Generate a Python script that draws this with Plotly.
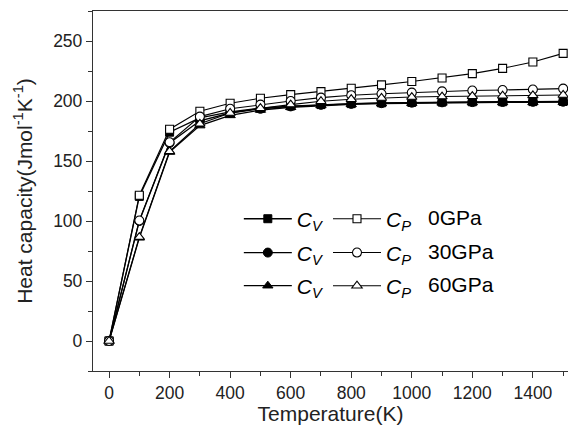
import plotly.graph_objects as go

temperature = [0, 100, 200, 300, 400, 500, 600, 700, 800, 900, 1000, 1100, 1200, 1300, 1400, 1500]

cv_0gpa = [0, 120.5, 174.0, 186.0, 191.0, 194.0, 195.8, 197.0, 197.8, 198.4, 198.8, 199.1, 199.3, 199.4, 199.5, 199.6]
cp_0gpa = [0, 121.5, 176.5, 191.5, 198.1, 202.3, 205.3, 207.8, 210.6, 213.4, 216.2, 219.2, 222.8, 227.2, 232.5, 239.7]

cv_30gpa = [0, 100.0, 165.0, 183.5, 190.0, 193.5, 195.5, 196.8, 197.6, 198.2, 198.6, 198.9, 199.1, 199.2, 199.3, 199.4]
cp_30gpa = [0, 100.4, 165.6, 187.0, 193.5, 197.0, 200.0, 202.8, 204.8, 206.0, 207.0, 208.0, 208.7, 209.2, 209.6, 210.3]

cv_60gpa = [0, 86.0, 157.5, 179.5, 188.0, 192.5, 194.8, 196.3, 197.2, 197.8, 198.2, 198.5, 198.7, 198.8, 198.9, 199.0]
cp_60gpa = [0, 86.6, 158.0, 181.0, 190.0, 194.0, 197.0, 199.8, 201.5, 202.5, 203.3, 203.7, 204.0, 204.4, 204.7, 205.0]

pressures = ["0GPa", "30GPa", "60GPa"]
cv_series = [cv_0gpa, cv_30gpa, cv_60gpa]
cp_series = [cp_0gpa, cp_30gpa, cp_60gpa]
symbols = ["square", "circle", "triangle-up"]
msizes = [8, 9, 9]

FONT = "Liberation Sans, Arial, sans-serif"
legend_names = ["legend", "legend2", "legend3"]

fig = go.Figure()

for i in range(3):
    fig.add_trace(go.Scatter(
        x=temperature, y=cv_series[i], mode="lines+markers",
        name="<i>C</i><sub><i>V</i></sub>",
        line=dict(color="black", width=1.3),
        marker=dict(symbol=symbols[i], size=msizes[i], color="black",
                    line=dict(color="black", width=1)),
        legend=legend_names[i],
    ))
for i in range(3):
    fig.add_trace(go.Scatter(
        x=temperature, y=cp_series[i], mode="lines+markers",
        name="<i>C</i><sub><i>P</i></sub>",
        line=dict(color="black", width=1.1),
        marker=dict(symbol=symbols[i], size=msizes[i], color="white",
                    line=dict(color="black", width=1.1)),
        legend=legend_names[i],
    ))

legend_y = [0.422, 0.328, 0.236]
legend_x = 0.307
legend_common = dict(
    orientation="h", xanchor="left", yanchor="middle",
    bgcolor="rgba(0,0,0,0)", borderwidth=0,
    font=dict(family=FONT, size=21, color="black"),
    itemwidth=48,
    traceorder="normal",
)

annotations = []
for i in range(3):
    annotations.append(dict(
        text=pressures[i], xref="paper", yref="paper",
        x=0.70, y=legend_y[i] + 0.004, xanchor="left", yanchor="middle",
        showarrow=False, font=dict(family=FONT, size=21, color="black"),
    ))

fig.update_layout(
    width=568, height=425,
    margin=dict(l=93, r=0, t=11, b=54),
    paper_bgcolor="white", plot_bgcolor="white",
    font=dict(family=FONT, size=17.5, color="black"),
    showlegend=True,
    legend=dict(x=legend_x, y=legend_y[0], **legend_common),
    legend2=dict(x=legend_x, y=legend_y[1], **legend_common),
    legend3=dict(x=legend_x, y=legend_y[2], **legend_common),
    annotations=annotations,
    xaxis=dict(
        range=[-53, 1516],
        tickmode="array", tickvals=[0, 200, 400, 600, 800, 1000, 1200, 1400],
        ticks="outside", ticklen=6, tickwidth=1.2, tickcolor="#333",
        minor=dict(dtick=100, tick0=0, ticks="outside", ticklen=4, tickwidth=1.2, tickcolor="#333", showgrid=False),
        showline=True, linecolor="#333", linewidth=1.3, mirror=True,
        showgrid=False, zeroline=False,
        tickfont=dict(family=FONT, size=17.5, color="#222"),
        title=dict(text="Temperature(K)", font=dict(family=FONT, size=21, color="#222"), standoff=4),
    ),
    yaxis=dict(
        range=[-25, 275],
        tickmode="array", tickvals=[0, 50, 100, 150, 200, 250],
        ticks="outside", ticklen=6, tickwidth=1.2, tickcolor="#333",
        minor=dict(dtick=25, tick0=0, ticks="outside", ticklen=4, tickwidth=1.2, tickcolor="#333", showgrid=False),
        showline=True, linecolor="#333", linewidth=1.3, mirror=False,
        showgrid=False, zeroline=False,
        tickfont=dict(family=FONT, size=17.5, color="#222"),
        title=dict(text="Heat capacity(Jmol<sup>-1</sup>K<sup>-1</sup>)",
                   font=dict(family=FONT, size=21, color="#222"), standoff=14),
    ),
)

fig.write_html("out.html")
